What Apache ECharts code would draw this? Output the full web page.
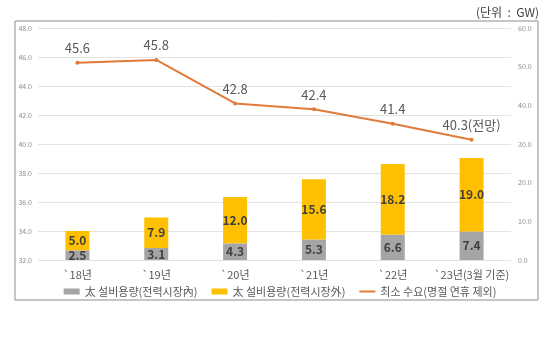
<!DOCTYPE html>
<html>
<head>
<meta charset="utf-8">
<script src="https://cdn.jsdelivr.net/npm/echarts@6/dist/echarts.min.js"></script>
<style>
  html, body { margin: 0; padding: 0; background: #fff; }
  #chart { width: 560px; height: 352px; }
</style>
</head>
<body>
<div id="chart"></div>
<script>
// 데이터
const categories = ['`18년', '`19년', '`20년', '`21년', '`22년', '`23년(3월 기준)'];
const inMarket = [2.5, 3.1, 4.3, 5.3, 6.6, 7.4];      // 太 설비용량(전력시장內)
const outMarket = [5.0, 7.9, 12.0, 15.6, 18.2, 19.0]; // 太 설비용량(전력시장外)
const minDemand = [45.6, 45.8, 42.8, 42.4, 41.4, 40.3]; // 최소 수요
const lastNote = '(전망)';

const chart = echarts.init(document.getElementById('chart'));

const textColor = '#595959';
const font = '"Noto Sans CJK KR", "Noto Sans", sans-serif';

const option = {
    backgroundColor: '#fff',
    animation: false,
    textStyle: { fontFamily: font },
    title: {
        text: '(단위  :  GW)',
        right: 16,
        top: 1,
        textStyle: { fontSize: 12, fontWeight: 'normal', color: '#404040', fontFamily: font },
    },
    graphic: [
        {
            type: 'rect',
            shape: { x: 15, y: 21, width: 523, height: 279 },
            style: { fill: 'none', stroke: '#8c8c8c', lineWidth: 1 },
            z: -1,
        },
    ],
    legend: {
        bottom: 50,
        left: 'center',
        itemWidth: 16,
        itemHeight: 6,
        itemGap: 14,
        textStyle: { fontSize: 11, color: textColor, fontFamily: font },
        data: [
            { name: '太 설비용량(전력시장內)', icon: 'rect' },
            { name: '太 설비용량(전력시장外)', icon: 'rect' },
            { name: '최소 수요(명절 연휴 제외)', icon: 'path://M0,0 L16,0 L16,2 L0,2 Z' },
        ],
    },
    grid: {
        left: 38,
        right: 49,
        top: 28,
        bottom: 92,
    },
    xAxis: {
        type: 'category',
        data: categories,
        axisLine: { show: false },
        axisTick: { show: false },
        axisLabel: { color: textColor, fontSize: 11, margin: 9, interval: 0 },
    },
    yAxis: [
        {
            type: 'value',
            min: 32,
            max: 48,
            interval: 2,
            axisLine: { show: false },
            axisTick: { show: false },
            axisLabel: {
                color: '#8c8c8c', fontSize: 7, margin: 6,
                formatter: v => v.toFixed(1),
            },
            splitLine: { lineStyle: { color: '#e3e3e3' } },
        },
        {
            type: 'value',
            min: 0,
            max: 60,
            interval: 10,
            axisLine: { show: false },
            axisTick: { show: false },
            axisLabel: {
                color: '#8c8c8c', fontSize: 7, margin: 7,
                formatter: v => v.toFixed(1),
            },
            splitLine: { show: false },
        },
    ],
    series: [
        {
            name: '太 설비용량(전력시장內)',
            type: 'bar',
            stack: 'cap',
            yAxisIndex: 1,
            barWidth: 24,
            data: inMarket,
            itemStyle: { color: '#a5a5a5' },
            label: {
                show: true, position: 'inside', color: '#404040',
                fontSize: 12, fontWeight: 'bold',
                formatter: p => p.value.toFixed(1),
            },
        },
        {
            name: '太 설비용량(전력시장外)',
            type: 'bar',
            stack: 'cap',
            yAxisIndex: 1,
            barWidth: 24,
            data: outMarket,
            itemStyle: { color: '#ffc000' },
            label: {
                show: true, position: 'inside', color: '#404040',
                fontSize: 12, fontWeight: 'bold',
                formatter: p => p.value.toFixed(1),
            },
        },
        {
            name: '최소 수요(명절 연휴 제외)',
            type: 'line',
            yAxisIndex: 0,
            data: minDemand,
            symbol: 'circle',
            symbolSize: 4,
            lineStyle: { color: '#e07b39', width: 2 },
            itemStyle: { color: '#e07b39' },
            label: {
                show: true, position: 'top', color: textColor,
                fontSize: 13, distance: 6,
                formatter: p => p.dataIndex === minDemand.length - 1
                    ? p.value.toFixed(1) + lastNote
                    : p.value.toFixed(1),
            },
        },
    ],
};

chart.setOption(option);
</script>
</body>
</html>
